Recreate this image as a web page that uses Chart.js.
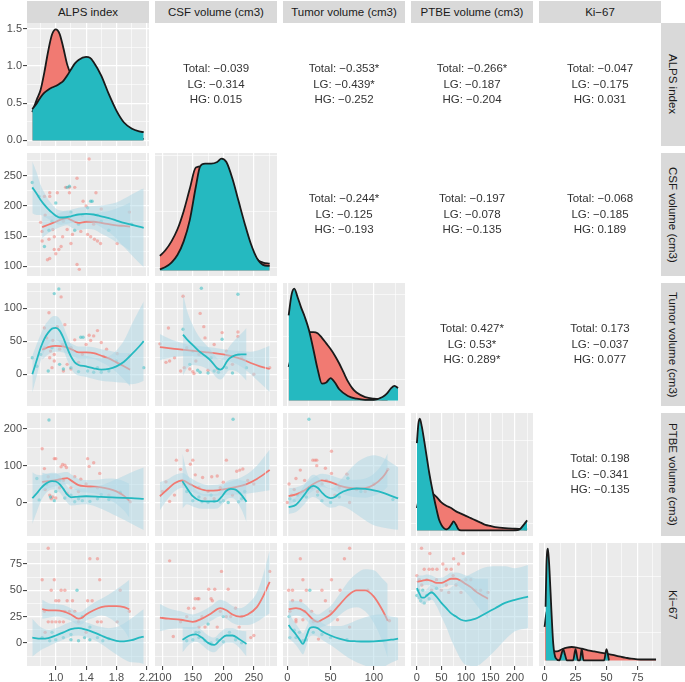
<!DOCTYPE html>
<html>
<head>
<meta charset="utf-8">
<script src="https://cdn.jsdelivr.net/npm/chart.js@4.4.1/dist/chart.umd.min.js"></script>
<style>
  body { margin: 0; background: #fff; width: 685px; height: 682px; overflow: hidden; position: relative;
         font-family: "Liberation Sans", Arial, sans-serif; }
  canvas { position: absolute; }
  .strip { position: absolute; background: #D9D9D9; color: #1A1A1A; font-size: 11.5px;
           display: flex; align-items: center; justify-content: center; white-space: nowrap; }
  .strip.side { writing-mode: vertical-rl; }
  .cor { position: absolute; text-align: center; font-size: 11.5px; color: #333; line-height: 15.5px; white-space: nowrap; }
</style>
</head>
<body>
<script>
// variables (column / row order)
const varNames = ['ALPS index', 'CSF volume (cm3)', 'Tumor volume (cm3)', 'PTBE volume (cm3)', 'Ki\u221267'];

// correlations for the upper panels: [row, col]
const corCells = [[0,1],[0,2],[0,3],[0,4],[1,2],[1,3],[1,4],[2,3],[2,4],[3,4]];
const corTotal = [-0.039, -0.353, -0.266, -0.047, -0.244, -0.197, -0.068, 0.427, 0.173, 0.198];
const starTotal = [0, 1, 1, 0, 1, 0, 0, 1, 0, 0];
const corLG = [-0.314, -0.439, -0.187, -0.175, -0.125, -0.078, -0.185, 0.53, -0.037, -0.341];
const starLG = [0, 1, 0, 0, 0, 0, 0, 1, 0, 0];
const corHG = [0.015, -0.252, -0.204, 0.031, -0.193, -0.135, 0.189, 0.289, 0.077, -0.135];
const starHG = [0, 0, 0, 0, 0, 0, 0, 1, 0, 0];

// tick values and labels
const alpsTicks = [1.0, 1.4, 1.8, 2.2], alpsMinor = [0.8, 1.2, 1.6, 2.0], alpsLabels = ['1.0', '1.4', '1.8', '2.2'];
const csfTicks = [100, 150, 200, 250], csfMinor = [125, 175, 225, 275], csfLabels = ['100', '150', '200', '250'];
const tumTicks = [0, 50, 100], tumMinor = [-25, 25, 75, 125], tumLabels = ['0', '50', '100'];
const ptbeTicksX = [0, 50, 100, 150, 200], ptbeMinorX = [25, 75, 125, 175, 225], ptbeLabelsX = ['0', '50', '100', '150', '200'];
const ptbeTicksY = [0, 100, 200], ptbeMinorY = [-50, 50, 150], ptbeLabelsY = ['0', '100', '200'];
const kiTicks = [0, 25, 50, 75], kiMinorX = [12.5, 37.5, 62.5, 87.5], kiMinorY = [-12.5, 12.5, 37.5, 62.5, 87.5], kiLabels = ['0', '25', '50', '75'];
const densTicksAlps = [0, 0.5, 1.0, 1.5], densMinorAlps = [0.25, 0.75, 1.25], densLabelsAlps = ['0.0', '0.5', '1.0', '1.5'];

// diagonal densities [x, density]
const densAlpsLG = [[0.69,0.38],[0.75,0.55],[0.8,0.68],[0.85,0.92],[0.9,1.2],[0.95,1.42],[1.0,1.49],[1.05,1.43],[1.1,1.24],[1.15,1.02],[1.2,0.88],[1.25,0.78],[1.3,0.7],[1.4,0.58],[1.5,0.45],[1.6,0.3],[1.7,0.2],[1.8,0.12],[1.9,0.08],[2.0,0.05],[2.1,0.03],[2.16,0.02]];
const densAlpsHG = [[0.69,0.42],[0.75,0.5],[0.8,0.58],[0.85,0.64],[0.9,0.68],[0.95,0.71],[1.0,0.73],[1.05,0.76],[1.1,0.8],[1.15,0.87],[1.2,0.95],[1.25,1.03],[1.3,1.08],[1.4,1.12],[1.45,1.11],[1.5,1.05],[1.6,0.87],[1.7,0.62],[1.8,0.4],[1.9,0.24],[2.0,0.16],[2.1,0.12],[2.16,0.11]];
const densCsfLG = [[96,0.13],[105,0.18],[115,0.26],[125,0.37],[135,0.53],[145,0.73],[155,0.92],[165,0.93],[175,0.9],[185,0.85],[195,0.8],[205,0.76],[215,0.7],[225,0.55],[235,0.38],[245,0.2],[255,0.1],[265,0.07],[276,0.06]];
const densCsfHG = [[96,0.01],[105,0.03],[115,0.07],[125,0.14],[135,0.26],[145,0.45],[155,0.75],[162,0.93],[170,0.955],[180,0.955],[190,0.97],[197,1.0],[205,0.97],[215,0.82],[225,0.62],[235,0.42],[245,0.24],[255,0.11],[265,0.05],[276,0.04]];
const densTumLG = [[1.5,0.3],[5,0.4],[10,0.5],[15,0.55],[20,0.6],[25,0.61],[30,0.61],[35,0.6],[40,0.56],[45,0.51],[50,0.46],[55,0.4],[60,0.33],[65,0.25],[70,0.17],[75,0.11],[80,0.07],[90,0.03],[100,0.015],[110,0.01],[116,0.01]];
const densTumHG = [[1.5,0.76],[5,0.95],[8,1.0],[12,0.92],[16,0.83],[20,0.75],[25,0.63],[30,0.46],[35,0.28],[40,0.15],[45,0.16],[50,0.2],[55,0.16],[60,0.1],[70,0.04],[80,0.015],[90,0.005],[100,0.005],[110,0.03],[115,0.06],[120,0.11],[124,0.13],[128,0.11]];
const densPtbeLG = [[0,0.2],[5,0.3],[10,0.35],[15,0.37],[20,0.37],[25,0.36],[30,0.34],[40,0.3],[50,0.25],[60,0.22],[70,0.2],[80,0.17],[90,0.15],[100,0.13],[110,0.11],[120,0.09],[130,0.07],[140,0.05],[150,0.04],[160,0.03],[180,0.02],[200,0.015],[225,0.01]];
const densPtbeHG = [[0,0.78],[3,0.95],[6,1.0],[10,0.93],[15,0.8],[20,0.66],[25,0.52],[30,0.4],[35,0.29],[40,0.19],[45,0.1],[50,0.05],[55,0.02],[60,0.01],[65,0.02],[70,0.05],[75,0.08],[80,0.05],[85,0.01],[90,0],[100,0],[120,0],[150,0],[180,0],[200,0],[210,0.01],[218,0.05],[225,0.09]];
const densKiLG = [[0,0.3],[2,0.45],[4,0.35],[6,0.15],[8,0.08],[10,0.08],[14,0.1],[18,0.115],[22,0.12],[26,0.115],[30,0.105],[35,0.09],[40,0.08],[45,0.07],[50,0.06],[55,0.05],[60,0.035],[65,0.025],[70,0.015],[75,0.01],[80,0.008],[85,0.008],[90,0.008]];
const densKiHG = [[0.8,0.48],[1.5,0.85],[2.7,1.0],[4,0.8],[5.5,0.45],[7,0.15],[9,0.02],[12,0],[13.5,0.05],[15,0.1],[16.5,0.05],[18,0],[23,0],[25,0.1],[27,0],[28.5,0],[30,0.1],[31.5,0],[48,0],[50,0.1],[52,0]];

// scatter points [x, y]
const ptsCsfAlpsLG = [[1.44,278],[1.28,246],[1.13,231],[1.18,231],[1.25,231],[0.92,222],[1.02,222],[1.18,222],[0.85,216],[0.92,216],[1.53,222],[0.80,173],[0.96,161],[0.82,158],[1.15,161],[1.33,158],[1.42,153],[1.46,149],[0.98,149],[0.91,145],[1.09,149],[1.22,153],[1.51,145],[1.55,142],[0.82,142],[1.20,138],[1.07,133],[1.04,128],[0.98,128],[0.89,111],[0.92,113],[1.00,121],[1.28,103],[1.31,95],[1.59,138],[1.81,138],[1.97,190],[1.36,208],[1.40,200],[0.86,185],[1.10,175],[1.50,170],[1.60,195]];
const ptsCsfAlpsHG = [[0.69,239],[0.78,216],[1.15,231],[1.18,233],[0.85,133],[1.46,208],[1.48,208],[1.42,197],[0.91,160],[1.10,180],[1.30,170],[1.20,190],[1.00,205],[1.60,175],[1.25,160],[1.70,160],[2.00,170],[1.35,185],[0.95,175],[1.55,185]];
const ptsTumAlpsLG = [[1.07,117],[0.91,93],[1.12,75],[1.02,72],[0.85,70],[1.55,66],[1.44,59],[1.50,58],[1.46,51],[0.96,51],[1.09,45],[0.85,40],[0.93,35],[0.98,30],[0.92,25],[0.98,20],[1.15,15],[1.30,18],[1.25,52],[1.67,38],[1.63,27],[1.81,31],[1.97,28],[1.20,40],[1.05,38],[0.88,55],[1.35,30],[1.40,45],[1.60,48],[0.95,10],[1.10,5],[1.20,8]];
const ptsTumAlpsHG = [[0.98,122],[1.04,129],[0.69,25],[0.75,12],[0.80,30],[1.33,56],[1.36,56],[1.42,5],[1.50,3],[1.30,4],[1.20,10],[1.60,3],[1.70,5],[0.95,40],[1.05,15],[1.80,20],[2.16,10],[1.10,8],[1.55,10],[0.90,5]];
const ptsPtbeAlpsLG = [[0.82,146],[0.98,119],[1.00,119],[1.07,97],[1.09,103],[1.12,101],[1.14,95],[0.85,92],[1.42,119],[1.44,98],[1.50,108],[1.58,79],[1.33,63],[1.25,70],[0.96,15],[0.94,10],[1.00,12],[0.86,35],[0.92,20],[1.10,60],[1.20,40],[1.30,30],[1.55,40],[1.70,20],[1.85,25],[1.98,2],[1.40,50],[1.05,40],[0.90,70],[1.15,25]];
const ptsPtbeAlpsHG = [[0.91,224],[0.78,7],[0.75,65],[0.88,50],[0.93,15],[1.00,30],[1.05,60],[1.12,12],[1.25,2],[1.35,5],[1.45,3],[1.55,10],[1.70,8],[1.85,28],[1.20,20],[0.98,5],[1.60,22],[1.30,10]];
const ptsKiAlpsLG = [[0.90,90],[0.82,60],[0.98,60],[0.94,50],[1.07,50],[1.12,50],[1.00,40],[1.04,40],[1.15,40],[1.22,40],[1.45,80],[1.55,80],[1.58,60],[1.42,40],[1.48,40],[0.90,20],[0.95,20],[1.00,20],[1.05,20],[1.10,20],[1.12,30],[1.18,30],[1.55,20],[1.60,20],[1.81,20],[1.85,50],[0.86,10],[1.25,30],[1.30,20],[1.40,10],[1.97,30],[0.85,30]];
const ptsKiAlpsHG = [[1.28,50],[0.82,5],[0.92,2],[1.00,3],[1.10,5],[1.20,3],[1.30,2],[1.38,5],[1.45,3],[1.55,5],[1.62,2],[1.20,8],[1.45,15],[0.95,10],[1.35,25],[1.70,4]];
const ptsTumCsfLG = [[134,118],[162,92],[168,72],[110,70],[198,63],[224,64],[224,57],[96,46],[106,18],[112,20],[136,10],[145,8],[152,1],[150,4],[175,6],[190,8],[130,5],[215,15],[250,0],[276,10],[120,25],[160,30],[185,45],[140,40],[205,35],[230,25],[170,55],[155,20]];
const ptsTumCsfHG = [[164,130],[224,121],[134,68],[198,53],[158,6],[162,3],[175,2],[192,3],[215,2],[238,10],[145,15],[180,25],[205,10],[225,30],[150,35],[185,5]];
const ptsPtbeCsfLG = [[141,141],[150,115],[123,115],[146,104],[205,115],[227,88],[222,85],[232,91],[154,75],[181,70],[190,72],[166,68],[106,56],[112,3],[100,30],[130,90],[160,40],[175,30],[195,40],[210,35],[240,60],[250,50],[135,50],[120,20],[185,10],[215,20],[200,55],[170,10]];
const ptsPtbeCsfHG = [[216,226],[140,30],[150,5],[165,2],[175,0],[185,3],[195,1],[208,0],[225,2],[230,10],[160,15],[200,5],[180,20],[235,30]];
const ptsPtbeTumLG = [[51,139],[29.5,115],[32,115],[34,115],[34,100],[15,88],[44,93],[51,79],[69,77],[116,90],[0,0],[72,0],[20,60],[10,65],[25,40],[40,50],[60,40],[5,20],[15,25],[35,30],[45,60],[55,20],[80,35],[90,30],[100,50],[2,50],[8,35]];
const ptsPtbeTumHG = [[25,226],[70,66],[50,0],[122,8],[3,10],[8,5],[12,20],[18,30],[22,15],[28,40],[35,20],[40,5],[60,15],[85,30]];
const ptsKiCsfLG = [[112,78],[197,68],[154,42],[158,42],[160,42],[176,51],[186,51],[208,51],[180,42],[182,40],[143,33],[152,33],[140,25],[118,6],[165,25],[170,15],[190,15],[205,25],[212,25],[226,15],[230,25],[245,5],[250,7],[276,68],[130,20],[160,15],[195,30],[220,33]];
const ptsKiCsfHG = [[140,2],[150,3],[160,5],[170,2],[180,0],[190,3],[200,1],[210,10],[220,3],[230,0],[160,10],[200,25],[175,18],[155,10]];
const ptsKiTumLG = [[15,80],[72,90],[66,80],[18,60],[1.5,50],[6,50],[22,50],[40,50],[51,60],[61,50],[93,50],[6,40],[15.5,40],[44,40],[58,22],[36,3.6],[18,22],[10,22],[3,30],[28,30],[118,21],[72,15],[10,20],[30,20],[50,30],[20,30]];
const ptsKiTumHG = [[26,50],[3,5],[10,5],[18,2],[22,3],[50,5],[69,3],[2,25],[30,10],[40,8],[8,12],[14,10]];
const ptsKiPtbeLG = [[9.5,90],[26.5,85],[53,75],[94.5,85],[75,80],[15,70],[25,70],[32,70],[41,70],[60,70],[70,70],[85,75],[0,64],[74,64],[5,60],[20,60],[40,60],[60,55],[80,55],[100,60],[120,50],[130,50],[145,48],[110,60],[30,50],[50,50],[90,48],[10,55],[65,48]];
const ptsKiPtbeHG = [[0,45],[5,43],[12,50],[20,45],[30,48],[40,52],[8,40],[15,38],[25,42],[3,50]];

// loess fits [x, fit, lower, upper]
const fitCsfAlpsLG = [[0.82,165,147,183],[0.9,169,155,183],[1.0,174,162,186],[1.1,179,167,191],[1.15,180,168,192],[1.2,177,165,189],[1.3,172,160,184],[1.4,174,162,186],[1.5,174,161,187],[1.6,172,154,190],[1.7,170,148,192],[1.8,168,140,196],[1.9,167,133,201],[1.98,166,126,206]];
const fitCsfAlpsHG = [[0.69,231,188,274],[0.75,220,185,255],[0.8,210,185,235],[0.85,202,182,222],[0.9,195,179,211],[0.95,189,175,203],[1.0,184,172,196],[1.05,181,169,193],[1.1,181,170,192],[1.2,183,172,194],[1.3,186,175,197],[1.4,187,175,199],[1.5,186,172,200],[1.6,183,165,201],[1.7,180,157,203],[1.8,176,146,206],[1.9,172,132,212],[2.0,169,119,219],[2.1,166,106,226],[2.16,164,99,229]];
const fitTumAlpsLG = [[0.82,37,22,52],[0.9,41,30,52],[1.0,43,34,52],[1.1,42,33,51],[1.2,38,29,47],[1.3,33,24,42],[1.4,33,24,42],[1.5,32,23,41],[1.6,28,18,38],[1.7,24,12,36],[1.8,18,3,33],[1.9,12,-8,32],[1.98,7,-18,32]];
const fitTumAlpsHG = [[0.69,0,-28,28],[0.75,22,-2,46],[0.8,40,20,60],[0.85,54,35,73],[0.9,63,45,81],[0.95,69,51,87],[1.0,70,52,88],[1.05,66,48,84],[1.1,55,37,73],[1.15,40,22,58],[1.2,27,9,45],[1.25,18,1,35],[1.3,14,-2,30],[1.4,12,-4,28],[1.5,9,-7,25],[1.6,7,-10,24],[1.7,8,-11,27],[1.8,12,-12,36],[1.9,19,-13,51],[2.0,30,-15,75],[2.1,42,-13,97],[2.16,50,-10,110]];
const fitPtbeAlpsLG = [[0.82,56,31,81],[0.9,58,38,78],[1.0,61,44,78],[1.1,65,48,82],[1.15,66,49,83],[1.2,60,43,77],[1.3,47,30,64],[1.4,44,27,61],[1.5,43,25,61],[1.6,41,19,63],[1.7,37,9,65],[1.8,30,-4,64],[1.9,18,-22,58],[1.97,5,-41,51]];
const fitPtbeAlpsHG = [[0.69,12,-58,82],[0.75,25,-25,75],[0.8,38,2,74],[0.85,48,20,76],[0.9,55,31,79],[0.95,58,35,81],[1.0,57,34,80],[1.05,50,27,73],[1.1,37,14,60],[1.15,22,0,44],[1.2,14,-8,36],[1.3,16,-6,38],[1.4,17,-5,39],[1.6,15,-17,47],[1.8,13,-37,63],[2.0,12,-58,82],[2.16,10,-75,95]];
const fitKiAlpsLG = [[0.82,32,23,41],[0.9,31,24,38],[1.0,31,25,37],[1.1,30,24,36],[1.2,27,21,33],[1.3,23,17,29],[1.35,24,18,30],[1.4,27,21,33],[1.5,31,24,38],[1.6,34,26,42],[1.7,35,24,46],[1.8,35,19,51],[1.9,34,12,56],[1.97,32,4,60]];
const fitKiAlpsHG = [[0.69,5,-13,23],[0.8,4,-7,15],[0.9,4.5,-3.5,12.5],[1.0,7,0,14],[1.1,10,3,17],[1.2,13,6,20],[1.3,14,7,21],[1.4,12.5,5.5,19.5],[1.5,10,3,17],[1.6,7,-1,15],[1.7,4,-6,14],[1.8,2,-11,15],[1.9,1.5,-15.5,18.5],[2.0,2.5,-18.5,23.5],[2.1,5,-19,29],[2.16,6,-20,32]];
const fitTumCsfLG = [[96,41,21,61],[110,39.5,24.5,54.5],[125,38,27,49],[140,36.5,27.5,45.5],[155,35,27,43],[170,33.5,25.5,41.5],[185,32,24,40],[200,30,22,38],[215,27,18,36],[230,23,11,35],[245,17,0,34],[260,12,-13,37],[276,8,-27,43]];
const fitTumCsfHG = [[134,60,-2,122],[140,53,8,98],[150,44,14,74],[160,35,13,57],[170,28,10,46],[180,20,4,36],[190,9,-6,24],[195,7,-8,22],[200,10,-5,25],[205,18,2,34],[210,24,6,42],[220,29,5,53],[230,30,-2,62],[238,30,-10,70]];
const fitPtbeCsfLG = [[96,17,-21,55],[110,38,12,64],[120,52,30,74],[133,60,40,80],[145,50,32,68],[160,38,22,54],[175,32,17,47],[190,33,18,48],[205,37,21,53],[220,42,22,62],[238,50,24,76],[255,64,28,100],[276,88,33,143]];
const fitPtbeCsfHG = [[133,58,-17,133],[140,40,-5,85],[150,17,-11,45],[160,6,-16,28],[170,3,-17,23],[180,3,-17,23],[190,4,-16,24],[197,15,-7,37],[205,32,8,56],[212,37,12,62],[220,35,7,63],[230,20,-20,60],[238,2,-53,57]];
const fitKiCsfLG = [[96,24,11,37],[110,23,13,33],[130,22,14,30],[150,20,13,27],[165,23,16,30],[180,28,21,35],[195,33,25,41],[205,31,23,39],[215,27,19,35],[227,25,17,33],[240,27,17,37],[255,34,20,48],[265,44,24,64],[276,58,28,88]];
const fitKiCsfHG = [[133,3,-9,15],[145,7,-1,15],[155,8,1,15],[165,5,-2,12],[175,0,-7,7],[185,-2,-9,5],[195,3,-4,10],[205,7,0,14],[215,7,0,14],[225,4,-4,12],[238,-1,-13,11]];
const fitPtbeTumLG = [[1.5,17,-5,39],[10,22,3,41],[20,33,15,51],[30,50,32,68],[40,60,42,78],[50,55,36,74],[60,46,26,66],[70,40,18,62],[80,38,14,62],[90,39,13,65],[100,48,18,78],[110,68,30,106],[116,88,43,133]];
const fitPtbeTumHG = [[1.5,-13,-31,5],[10,-6,-26,14],[20,22,-4,48],[25,38,10,66],[30,45,15,75],[35,40,10,70],[40,27,-1,55],[45,16,-10,42],[50,12,-14,38],[55,15,-13,43],[60,24,-8,56],[70,34,-16,84],[80,38,-32,108],[90,37,-48,122],[100,33,-62,128],[110,27,-68,122],[120,18,-72,108],[128,11,-74,96]];
const fitKiTumLG = [[1.5,32,24,40],[10,33,26,40],[20,30,23,37],[30,22,15,29],[35,20,13,27],[40,22,15,29],[50,27,19,35],[60,36,26,46],[70,45,32,58],[80,50,34,66],[90,50,30,70],[100,44,19,69],[110,31,1,61],[116,21,-14,56]];
const fitKiTumHG = [[1.5,17,4,30],[5,13,2,24],[10,8,-2,18],[15,2,-8,12],[18,-1,-11,9],[22,6,-3,15],[26,14,6,22],[30,15,7,23],[35,14,6,22],[40,11,3,19],[50,7,-2,16],[60,4,-8,16],[70,2,-14,18],[80,1.5,-18.5,21.5],[90,1.3,-21.7,24.3],[100,1.5,-23.5,26.5],[110,2,-23,27],[120,3,-19,25],[128,4,-16,24]];
const fitKiPtbeLG = [[0,58,52,64],[10,59,54,64],[20,60,55,65],[30,59,54,64],[40,57,52,62],[50,57,52,62],[60,59,54,64],[70,61,55,67],[80,61,55,67],[90,59,52,66],[100,56,48,64],[110,53,43,63],[120,49,37,61],[130,46,31,61],[145,42,23,61]];
const fitKiPtbeHG = [[0,52,43,61],[5,47,40,54],[10,43,37,49],[15,43,37,49],[20,45,39,51],[30,48,41,55],[40,44,35,53],[50,38,25,51],[60,33,15,51],[70,28,3,53],[80,25,-7,57],[90,22,-16,60],[100,21,-21,63],[120,23,-22,68],[140,28,-16,72],[160,33,-7,73],[180,38,3,73],[200,41,11,71],[227,44,14,74]];

// ---------- layout & style ----------
const FONT = '"Liberation Sans", Arial, sans-serif';
const LG = '#F17A72', HG = '#25B9C0';
const LG_PT = 'rgba(241,122,114,0.5)', HG_PT = 'rgba(37,185,192,0.5)';
const BAND = 'rgba(173,216,230,0.5)';
const colL = [27, 155, 283, 411, 539], rowT = [23, 153, 283, 413, 543];
const PW = 122, PH = 123, M = 30, YW = 27, XH = 16;

// x axis per column, y axis per row (lower panels)
const colAxes = [
  { min: 0.62, max: 2.23, major: alpsTicks, minor: alpsMinor, labels: alpsLabels },
  { min: 88, max: 288, major: csfTicks, minor: csfMinor, labels: csfLabels },
  { min: -5, max: 136, major: tumTicks, minor: tumMinor, labels: tumLabels },
  { min: -12, max: 237, major: ptbeTicksX, minor: ptbeMinorX, labels: ptbeLabelsX },
  { min: -4.5, max: 94, major: kiTicks, minor: kiMinorX, labels: kiLabels }
];
const rowAxes = [
  null,
  { min: 84, max: 288, major: csfTicks, minor: csfMinor, labels: csfLabels },
  { min: -48, max: 138, major: tumTicks, minor: tumMinor, labels: tumLabels },
  { min: -91, max: 243, major: ptbeTicksY, minor: ptbeMinorY, labels: ptbeLabelsY },
  { min: -22, max: 95, major: kiTicks, minor: kiMinorY, labels: kiLabels }
];
// density axes on the diagonal (relative heights except ALPS)
const diagAxes = [
  { min: -0.075, max: 1.575, major: densTicksAlps, minor: densMinorAlps, labels: densLabelsAlps },
  { min: -0.05, max: 1.05, major: [0.28, 0.78], minor: [0.03, 0.53, 1.03], labels: [] },
  { min: -0.05, max: 1.05, major: [0, 0.38, 0.76], minor: [0.19, 0.57, 0.95], labels: [] },
  { min: -0.05, max: 1.05, major: [0.25, 0.62, 0.99], minor: [0.065, 0.435, 0.805], labels: [] },
  { min: -0.05, max: 1.05, major: [0, 0.5, 1.0], minor: [0.25, 0.75], labels: [] }
];
const diagData = [[densAlpsLG, densAlpsHG], [densCsfLG, densCsfHG], [densTumLG, densTumHG], [densPtbeLG, densPtbeHG], [densKiLG, densKiHG]];
const lowerData = {
  '1,0': [ptsCsfAlpsLG, ptsCsfAlpsHG, fitCsfAlpsLG, fitCsfAlpsHG],
  '2,0': [ptsTumAlpsLG, ptsTumAlpsHG, fitTumAlpsLG, fitTumAlpsHG],
  '2,1': [ptsTumCsfLG, ptsTumCsfHG, fitTumCsfLG, fitTumCsfHG],
  '3,0': [ptsPtbeAlpsLG, ptsPtbeAlpsHG, fitPtbeAlpsLG, fitPtbeAlpsHG],
  '3,1': [ptsPtbeCsfLG, ptsPtbeCsfHG, fitPtbeCsfLG, fitPtbeCsfHG],
  '3,2': [ptsPtbeTumLG, ptsPtbeTumHG, fitPtbeTumLG, fitPtbeTumHG],
  '4,0': [ptsKiAlpsLG, ptsKiAlpsHG, fitKiAlpsLG, fitKiAlpsHG],
  '4,1': [ptsKiCsfLG, ptsKiCsfHG, fitKiCsfLG, fitKiCsfHG],
  '4,2': [ptsKiTumLG, ptsKiTumHG, fitKiTumLG, fitKiTumHG],
  '4,3': [ptsKiPtbeLG, ptsKiPtbeHG, fitKiPtbeLG, fitKiPtbeHG]
};

// grey panel background inside the chart area
const panelBg = {
  id: 'panelBg',
  beforeDraw(chart) {
    const { ctx, chartArea: a } = chart;
    ctx.save();
    ctx.fillStyle = '#EBEBEB';
    ctx.fillRect(a.left, a.top, a.right - a.left, a.bottom - a.top);
    ctx.restore();
  }
};

function axis(cfg, show, dir) {
  return {
    type: 'linear', min: cfg.min, max: cfg.max,
    border: { display: false },
    afterBuildTicks: s => {
      s.ticks = cfg.major.map(v => ({ value: v, major: true }))
        .concat(cfg.minor.map(v => ({ value: v, major: false })))
        .sort((a, b) => a.value - b.value);
    },
    afterFit: s => {
      if (dir === 'x') s.height = show ? XH : 0; else s.width = show ? YW : 0;
      s.paddingLeft = 0; s.paddingRight = 0; s.paddingTop = 0; s.paddingBottom = 0;
    },
    grid: {
      color: '#FFFFFF',
      lineWidth: c => (c.tick && c.tick.major ? 1.2 : 0.6),
      drawTicks: show, tickLength: 4, tickWidth: 1,
      tickColor: c => (c.tick && c.tick.major ? '#333333' : 'rgba(0,0,0,0)')
    },
    ticks: {
      display: show, autoSkip: false, maxRotation: 0, minRotation: 0, padding: 1,
      color: '#4D4D4D', font: { family: FONT, size: 11 },
      callback: v => { const i = cfg.major.indexOf(v); return i >= 0 ? cfg.labels[i] : ''; }
    }
  };
}

const xy = (tbl, k) => tbl.map(r => ({ x: r[0], y: r[k] }));

function pointsDs(arr, color, order) {
  return { data: xy(arr, 1), showLine: false, pointRadius: 1.7, pointHoverRadius: 0,
           pointBorderWidth: 0, pointBackgroundColor: color, order, clip: 0 };
}

function smoothDs(fit, color, hiIndex, order) {
  const base = { pointRadius: 0, pointHoverRadius: 0, cubicInterpolationMode: 'monotone', clip: 0 };
  return [
    Object.assign({ data: xy(fit, 3), borderColor: 'rgba(0,0,0,0)', borderWidth: 0, fill: false, order: 100 }, base),
    Object.assign({ data: xy(fit, 2), borderColor: 'rgba(0,0,0,0)', borderWidth: 0, fill: hiIndex, backgroundColor: BAND, order }, base),
    Object.assign({ data: xy(fit, 1), borderColor: color, borderWidth: 1.8, fill: false, order: order - 1 }, base)
  ];
}

function densDs(tbl, color, order) {
  return { data: xy(tbl, 1), borderColor: '#1A1A1A', borderWidth: 1.8, backgroundColor: color,
           fill: 'origin', pointRadius: 0, pointHoverRadius: 0, cubicInterpolationMode: 'monotone', order, clip: 0 };
}

function makePanel(r, c, datasets, xCfg, yCfg) {
  const cv = document.createElement('canvas');
  cv.width = PW + 2 * M; cv.height = PH + 2 * M;
  cv.style.left = (colL[c] - M) + 'px';
  cv.style.top = (rowT[r] - M) + 'px';
  document.body.appendChild(cv);
  const showY = c === 0, showX = r === 4;
  new Chart(cv, {
    type: 'line',
    data: { datasets },
    options: {
      responsive: false, animation: false, events: [],
      layout: { padding: { left: showY ? M - YW : M, right: M, top: M, bottom: showX ? M - XH : M } },
      plugins: { legend: { display: false }, tooltip: { enabled: false } },
      scales: { x: axis(xCfg, showX, 'x'), y: axis(yCfg, showY, 'y') }
    },
    plugins: [panelBg]
  });
}

// ---------- panels ----------
for (let r = 0; r < 5; r++) {
  for (let c = 0; c <= r; c++) {
    if (r === c) {
      const [dl, dh] = diagData[r];
      makePanel(r, c, [densDs(dl, LG, 2), densDs(dh, HG, 1)], colAxes[c], diagAxes[r]);
    } else {
      const [pl, ph, fl, fh] = lowerData[r + ',' + c];
      const ds = [pointsDs(pl, LG_PT, 60), pointsDs(ph, HG_PT, 55)];
      ds.push(...smoothDs(fl, LG, ds.length, 50));
      ds.push(...smoothDs(fh, HG, ds.length, 20));
      makePanel(r, c, ds, colAxes[c], rowAxes[r]);
    }
  }
}

// ---------- correlation text ----------
const fmt = (v, s) => (v < 0 ? '\u2212' : '') + String(Math.abs(v)) + (s ? '*' : '');
corCells.forEach(([r, c], i) => {
  const d = document.createElement('div');
  d.className = 'cor';
  d.style.left = colL[c] + 'px';
  d.style.width = PW + 'px';
  d.style.top = (rowT[r] + PH / 2 - 23.25) + 'px';
  d.innerHTML = 'Total: ' + fmt(corTotal[i], starTotal[i]) + '<br>LG: ' + fmt(corLG[i], starLG[i]) +
                '<br>HG: ' + fmt(corHG[i], starHG[i]);
  document.body.appendChild(d);
});

// ---------- strips ----------
varNames.forEach((name, i) => {
  const t = document.createElement('div');
  t.className = 'strip';
  Object.assign(t.style, { left: colL[i] + 'px', top: '1px', width: PW + 'px', height: '22px' });
  t.textContent = name;
  document.body.appendChild(t);
  const s = document.createElement('div');
  s.className = 'strip side';
  Object.assign(s.style, { left: (colL[4] + PW) + 'px', top: rowT[i] + 'px', width: '24px', height: PH + 'px' });
  s.textContent = name;
  document.body.appendChild(s);
});
</script>
</body>
</html>
